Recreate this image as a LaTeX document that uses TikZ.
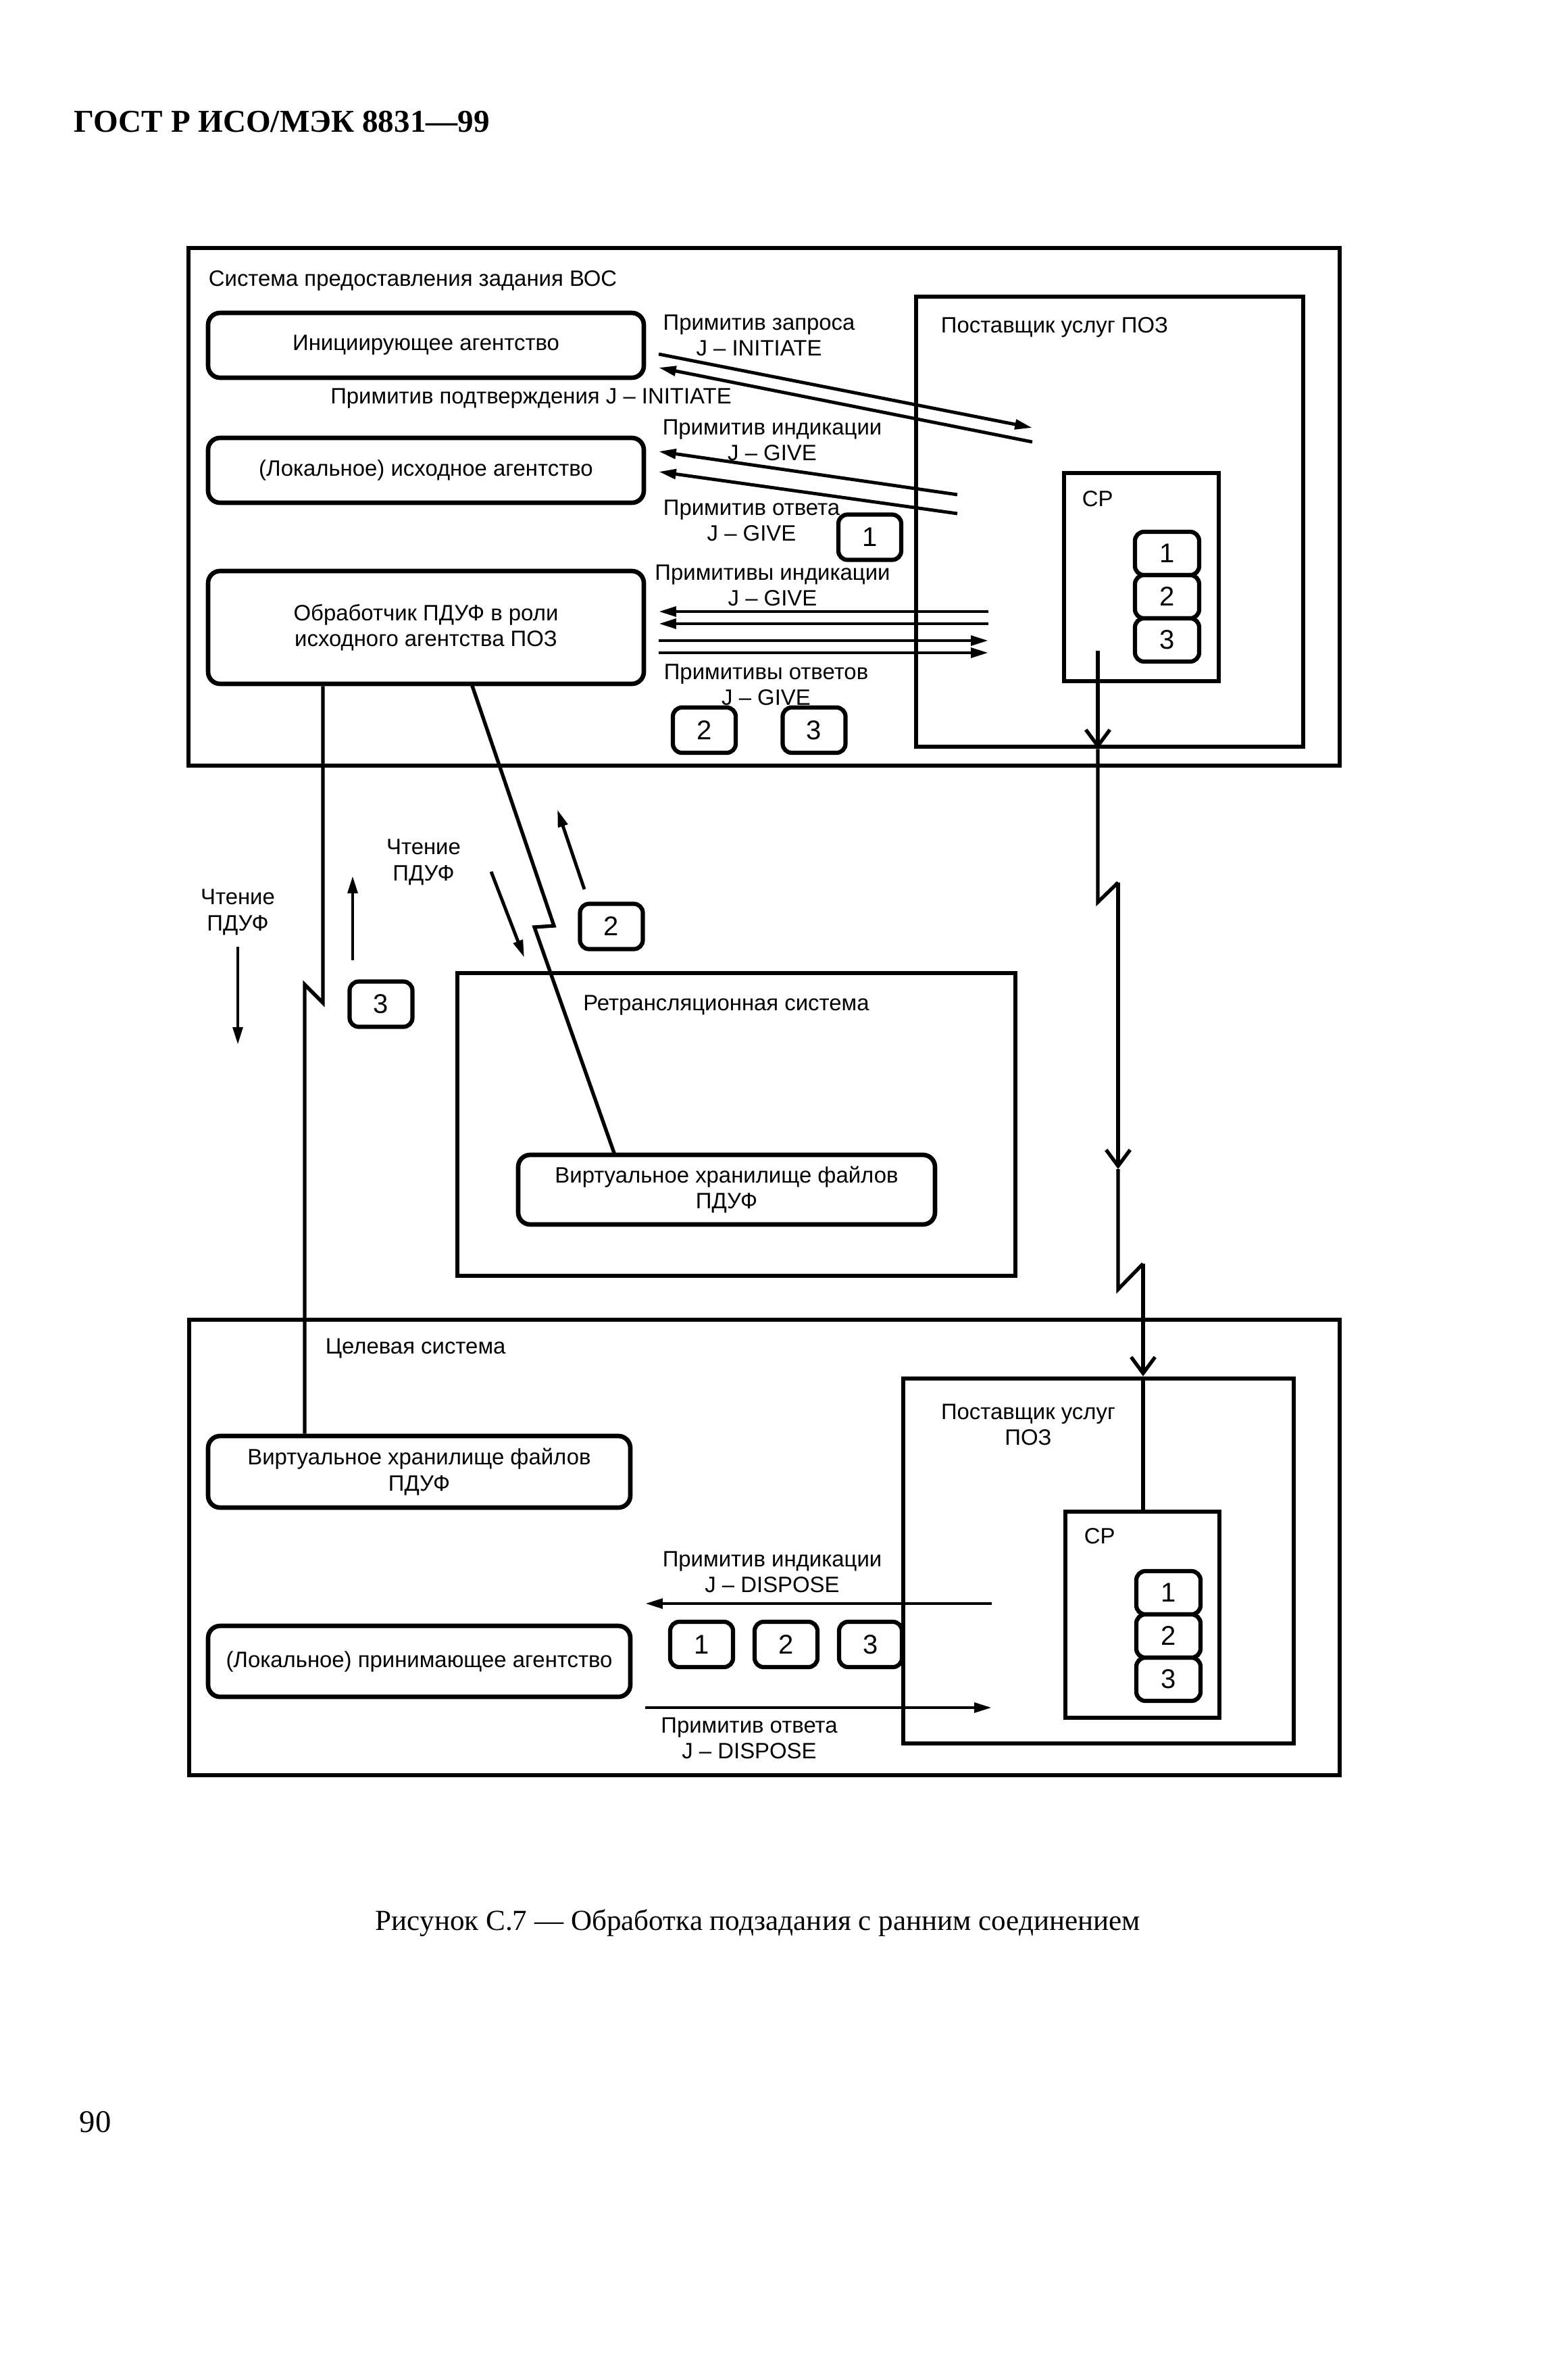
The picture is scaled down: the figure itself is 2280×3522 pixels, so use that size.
\documentclass[tikz,border=0pt]{standalone}
\usepackage{fontspec}
\setmainfont{Liberation Serif}
\setsansfont{Liberation Sans}
\usetikzlibrary{arrows.meta, positioning}
\newcommand{\upx}{0.225pt}
\newcommand{\diagfont}{\sffamily\fontsize{7.4}{8.6}\selectfont}
\newcommand{\digitfont}{\sffamily\fontsize{9}{10}\selectfont}
\tikzset{
  boxsize/.style 2 args={minimum width=#1*\upx, minimum height=#2*\upx},
  frame/.style={draw, line width=1.5pt, inner sep=0pt},
  agency/.style={draw, line width=1.5pt, rounded corners=4pt, align=center,
    font=\diagfont, inner sep=0pt},
  numbox/.style={draw, line width=1.4pt, rounded corners=3pt, boxsize={93}{67},
    inner sep=0pt, font=\digitfont},
  cpnum/.style={numbox, boxsize={95}{64}},
  lbl/.style={align=center, font=\diagfont, inner sep=0pt},
  prim/.style={line width=1.1pt, -{Triangle[length=5.8pt,width=3.2pt]}},
  link/.style={line width=1.2pt},
  barb/.style={link, -{Straight Barb[length=5.4pt,width=8pt]}}
}

\begin{document}
\begin{tikzpicture}[x=0.225pt, y=-0.225pt]
    \useasboundingbox (0,0) rectangle (2280,3522);
    \node[anchor=west, inner sep=0pt, font=\bfseries\fontsize{10.6}{12}\selectfont] (gost) at (109,180) {ГОСТ Р ИСО/МЭК 8831—99};

    % source system
    \node[frame, boxsize={1704}{766}] (src) at (1131,750) {};
    \node[lbl, anchor=west] (srcname) at (308,415) {Система предоставления задания ВОС};
    \node[agency, boxsize={645}{96}] (init) at (630.5,511) {Инициирующее агентство};
    \node[agency, boxsize={645}{96}] (orig) at (630.5,696) {(Локальное) исходное агентство};
    \node[agency, boxsize={645}{167}] (proc) at (630.5,928.5) {Обработчик ПДУФ в роли\\исходного агентства ПОЗ};
    \node[frame, boxsize={573}{666}] (pozA) at (1642.5,772) {};
    \node[lbl, anchor=west] (pozAname) at (1392,484) {Поставщик услуг ПОЗ};
    \node[frame, boxsize={229}{308}] (cpA) at (1689.5,854) {};
    \node[lbl, anchor=west] (cpAname) at (1601,738) {СР};
    \node[cpnum] (cpA1) at (1727.5,819) {1};
    \node[cpnum, below=-1.4pt of cpA1] (cpA2) {2};
    \node[cpnum, below=-1.4pt of cpA2] (cpA3) {3};

    % primitives between agencies and provider
    \coordinate (reqS) at (975,524);
    \coordinate (reqE) at (1528,633);
    \coordinate (cnfS) at (1528,654);
    \coordinate (cnfE) at (975,544);
    \coordinate (indS) at (1417,732);
    \coordinate (indE) at (975,668);
    \coordinate (rspS) at (1417,760);
    \coordinate (rspE) at (975,698);
    \draw[prim] (reqS) -- (reqE);
    \draw[prim] (cnfS) -- (cnfE);
    \draw[prim] (indS) -- (indE);
    \draw[prim] (rspS) -- (rspE);
    \node[lbl] (reqlbl) at (1123.5,496.5) {Примитив запроса\\J – INITIATE};
    \node[lbl] (cnflbl) at (786,590) {Примитив подтверждения J – INITIATE};
    \node[lbl] (indlbl) at (1143,651) {Примитив индикации\\J – GIVE};
    \node[lbl] (rsplbl) at (1112.5,770) {Примитив ответа\\J – GIVE};
    \node[numbox] (n1a) at (1287.5,795) {1};

    \foreach \yy/\dir in {905/-1, 923/-1, 948/1, 966/1} {
        \coordinate (hL) at (975,\yy);
        \coordinate (hR) at (1463,\yy);
        \ifnum\dir<0
            \draw[prim] (hR) -- (hL);
        \else
            \draw[prim] (hL) -- (hR);
        \fi
    }
    \node[lbl] (indslbl) at (1143.5,866) {Примитивы индикации\\J – GIVE};
    \node[lbl] (rspslbl) at (1134,1013) {Примитивы ответов\\J – GIVE};
    \node[numbox] (n2a) at (1042.5,1080.5) {2};
    \node[numbox] (n3a) at (1205,1080.5) {3};

    % relay system
    \node[frame, boxsize={826}{448}] (relay) at (1090,1664) {};
    \node[lbl] (relayname) at (1075,1488) {Ретрансляционная система};
    \node[agency, boxsize={617}{103}] (vsR) at (1075.5,1760.5) {Виртуальное хранилище файлов\\ПДУФ};

    % target system
    \node[frame, boxsize={1703}{674}] (dst) at (1131.5,2290) {};
    \node[lbl, anchor=west] (dstname) at (481,1995) {Целевая система};
    \node[agency, boxsize={625}{106}] (vsB) at (620.5,2178) {Виртуальное хранилище файлов\\ПДУФ};
    \node[agency, boxsize={625}{105}] (recv) at (620.5,2458.5) {(Локальное) принимающее агентство};
    \node[frame, boxsize={578}{540}] (pozB) at (1626,2310) {};
    \node[lbl] (pozBname) at (1522,2108) {Поставщик услуг\\ПОЗ};
    \node[frame, boxsize={228}{305}] (cpB) at (1691,2389.5) {};
    \node[lbl, anchor=west] (cpBname) at (1604,2273) {СР};
    \node[cpnum] (cpB1) at (1729.5,2357) {1};
    \node[cpnum, below=-1.4pt of cpB1] (cpB2) {2};
    \node[cpnum, below=-1.4pt of cpB2] (cpB3) {3};

    \coordinate (dspS) at (1468,2373);
    \coordinate (dspE) at (955,2373);
    \coordinate (drsS) at (955,2527);
    \coordinate (drsE) at (1468,2527);
    \draw[prim] (dspS) -- (dspE);
    \draw[prim] (drsS) -- (drsE);
    \node[lbl] (dsplbl) at (1143,2326) {Примитив индикации\\J – DISPOSE};
    \node[lbl] (drslbl) at (1109,2572) {Примитив ответа\\J – DISPOSE};
    \node[numbox] (b1) at (1038.5,2433.5) {1};
    \node[numbox, right=5.8pt of b1] (b2) {2};
    \node[numbox, right=5.8pt of b2] (b3) {3};

    % links between systems
    \coordinate (lnk1) at (478,1484);
    \coordinate (lnk2) at (451,1457);
    \draw[link] (lnk1 |- proc.south) -- (lnk1) -- (lnk2) -- (lnk2 |- vsB.north);
    \coordinate (mid0) at (698,1012);
    \coordinate (mid1) at (820,1370);
    \coordinate (mid2) at (791,1372);
    \coordinate (mid3) at (910,1709);
    \draw[link] (mid0) -- (mid1) -- (mid2) -- (mid3);
    \coordinate (rs) at (1625,963);
    \coordinate (r1) at (1625,1335);
    \coordinate (r2) at (1655,1306);
    \coordinate (rm) at (1655,1730);
    \coordinate (r3) at (1655,1908);
    \coordinate (r4) at (1692,1870);
    \draw[barb] (rs) -- (rs |- pozA.south);
    \draw[link] (rs |- pozA.south) -- (r1) -- (r2);
    \draw[barb] (r2) -- (rm);
    \draw[link] (rm) -- (r3) -- (r4);
    \draw[barb] (r4) -- (r4 |- pozB.north);
    \draw[link] (r4 |- pozB.north) -- (r4 |- cpB.north);

    % reading of PDUF
    \node[lbl] (readL) at (352,1350) {Чтение\\ПДУФ};
    \node[lbl] (readM) at (627,1276) {Чтение\\ПДУФ};
    \coordinate (rdLs) at (352,1401);
    \coordinate (rdLe) at (352,1546);
    \coordinate (rdUs) at (522,1421);
    \coordinate (rdUe) at (522,1296);
    \coordinate (rdDs) at (727,1290);
    \coordinate (rdDe) at (776,1417);
    \coordinate (rdTs) at (865,1316);
    \coordinate (rdTe) at (825,1198);
    \draw[prim] (rdLs) -- (rdLe);
    \draw[prim] (rdUs) -- (rdUe);
    \draw[prim] (rdDs) -- (rdDe);
    \draw[prim] (rdTs) -- (rdTe);
    \node[numbox] (n3m) at (564,1486) {3};
    \node[numbox] (n2m) at (905,1371) {2};

    \node[font=\fontsize{9.7}{11}\selectfont] (caption) at (1122,2846) {Рисунок С.7 — Обработка подзадания с ранним соединением};
    \node[font=\fontsize{10.5}{12}\selectfont] (pagenum) at (141,3140) {90};
\end{tikzpicture}
\end{document}
